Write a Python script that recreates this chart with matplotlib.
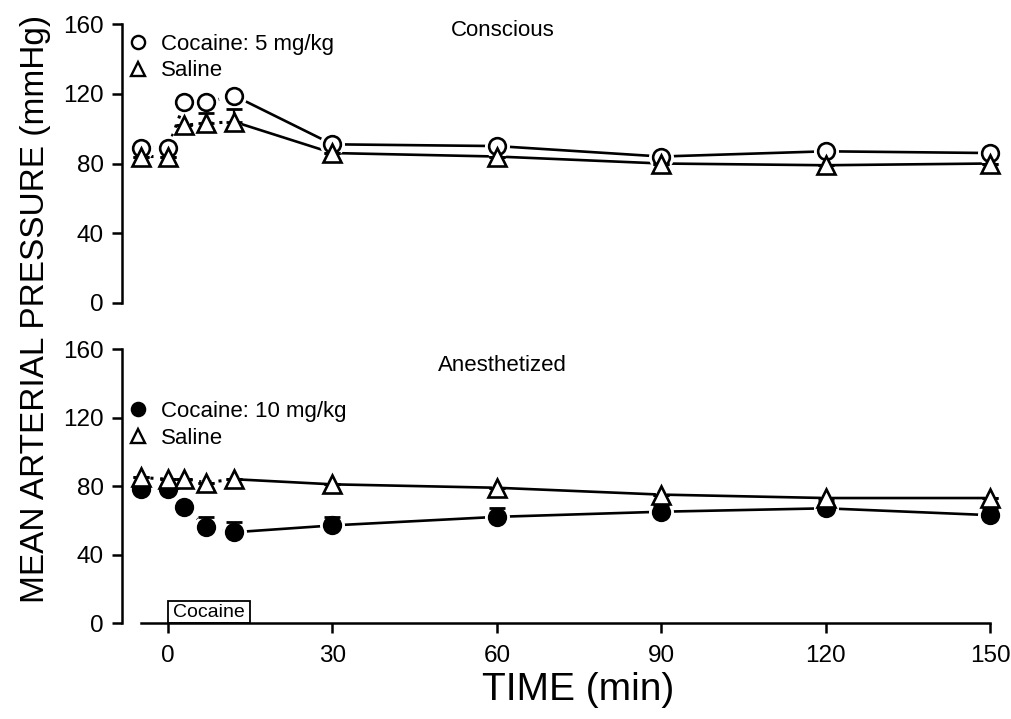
import numpy as np
import matplotlib
matplotlib.use("Agg")
import matplotlib.pyplot as plt
from matplotlib.lines import Line2D
from matplotlib.patches import Rectangle

plt.rcParams["font.family"] = ["Liberation Sans", "DejaVu Sans"]

# --- data ---
time = [-5, 0, 3, 7, 12, 30, 60, 90, 120, 150]

# conscious rats
coc5 = [89, 89, 115, 115, 119, 91, 90, 84, 87, 86]
coc5_err = [0, 0, 0, 0, 0, 0, 0, 0, 0, 0]
sal_c = [84, 84, 102, 103, 104, 86, 84, 80, 79, 80]
sal_c_err = [0, 0, 0, 6, 7, 0, 0, 0, 0, 0]

# anesthetized rats
coc10 = [78, 78, 68, 56, 53, 57, 62, 65, 67, 63]
coc10_err = [0, 0, 0, 6, 6, 5, 5, 4, 4, 4]
sal_a = [85, 84, 84, 82, 84, 81, 79, 75, 73, 73]
sal_a_err = [0, 0, 0, 0, 0, 0, 0, 0, 0, 0]

yticks = [0, 40, 80, 120, 160]
xticks = [0, 30, 60, 90, 120, 150]
infusion = (0, 15)   # cocaine infusion window (min)

TICK_FS = 17.5
TXT_FS = 16


def draw_panel(ax, series, title, title_y, legend_labels, legend_y):
    # lines: dotted through the infusion period, solid afterwards
    for vals, mk, fc, err in series:
        ax.plot(time[:5], vals[:5], ls=(0, (1, 2.2)), color="k", lw=2.2, zorder=1)
        ax.plot(time[4:], vals[4:], ls="-", color="k", lw=1.9, zorder=1)
    # white halo so lines stop short of the symbols
    for vals, mk, fc, err in series:
        ax.plot(time, vals, ls="none", marker=mk, ms=18, mfc="white", mec="white",
                mew=0, zorder=2, clip_on=False)
    for vals, mk, fc, err in series:
        ax.errorbar(time, vals, yerr=[np.zeros(len(err)), err], fmt="none", ecolor="k",
                    elinewidth=1.6, capsize=5.5, capthick=2.0, zorder=3)
    for vals, mk, fc, err in series:
        ax.plot(time, vals, ls="none", marker=mk, ms=12 if mk == "o" else 13,
                mfc=fc, mec="k", mew=1.9, zorder=4, clip_on=False)

    ax.set_xlim(-8.4, 152)
    ax.set_ylim(0, 160)
    ax.set_yticks(yticks)
    ax.spines["top"].set_visible(False)
    ax.spines["right"].set_visible(False)
    ax.spines["left"].set_linewidth(1.8)
    ax.spines["bottom"].set_linewidth(1.8)
    ax.tick_params(axis="y", direction="out", length=7, width=1.8, labelsize=TICK_FS, pad=6)
    ax.tick_params(axis="x", direction="out", length=7, width=1.8, labelsize=TICK_FS, pad=9)
    ax.text(0.433, title_y, title, transform=ax.transAxes,
            ha="center", va="center", fontsize=TXT_FS)

    handles = [Line2D([], [], ls="none", marker=s[1], ms=9.5, mfc=s[2], mec="k", mew=1.7)
               for s in series]
    ax.legend(handles, legend_labels, loc="upper left", frameon=False,
              bbox_to_anchor=(0.005, legend_y),
              fontsize=TXT_FS, handlelength=1.0, handletextpad=0.55,
              labelspacing=0.25, borderaxespad=0, borderpad=0)


fig = plt.figure(figsize=(10.11, 7.19), dpi=100)
ax_top = fig.add_axes([0.1207, 0.5786, 0.8694, 0.388])
ax_bot = fig.add_axes([0.1207, 0.1335, 0.8694, 0.381])

draw_panel(ax_top, [(coc5, "o", "white", coc5_err), (sal_c, "^", "white", sal_c_err)],
           "Conscious", 0.975, ["Cocaine: 5 mg/kg", "Saline"], 0.965)
draw_panel(ax_bot, [(coc10, "o", "black", coc10_err), (sal_a, "^", "white", sal_a_err)],
           "Anesthetized", 0.94, ["Cocaine: 10 mg/kg", "Saline"], 0.81)

# top panel has no time axis
ax_top.spines["bottom"].set_visible(False)
ax_top.set_xticks([])

ax_bot.spines["bottom"].set_bounds(-5, 150)
ax_bot.set_xticks(xticks)

# infusion box
ax_bot.add_patch(Rectangle((infusion[0], 0), infusion[1] - infusion[0], 13,
                           fill=False, ec="k", lw=1.3, zorder=5, clip_on=False))
ax_bot.text(np.mean(infusion), 6.3, "Cocaine", ha="center", va="center", fontsize=14)

fig.text(0.572, 0.04, "TIME (min)", ha="center", va="center", fontsize=28)
fig.text(0.035, 0.57, "MEAN ARTERIAL PRESSURE (mmHg)", rotation=90,
         ha="center", va="center", fontsize=24)

fig.savefig("out.png", dpi=100)
